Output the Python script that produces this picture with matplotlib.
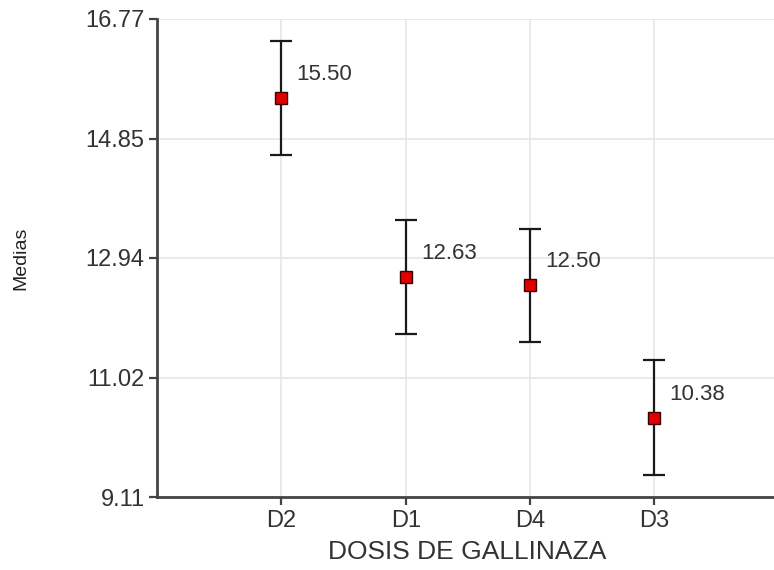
import matplotlib
matplotlib.use("Agg")
import matplotlib.pyplot as plt
import numpy as np

plt.rcParams['font.family'] = ['Liberation Sans', 'DejaVu Sans']

# Means per dose, sorted as in the chart
categories = ['D2', 'D1', 'D4', 'D3']
medias = [15.50, 12.63, 12.50, 10.38]
errores = [0.91, 0.91, 0.91, 0.92]
yticks = [9.11, 11.02, 12.94, 14.85, 16.77]
ytick_labels = ['9.11', '11.02', '12.94', '14.85', '16.77']

fig = plt.figure(figsize=(7.74, 5.70), dpi=100)
ax = fig.add_axes([0.203, 0.128, 0.80, 0.839])

x = np.arange(1, len(categories) + 1)
ax.errorbar(x, medias, yerr=errores, fmt='none', ecolor='#1a1a1a',
            elinewidth=1.6, capsize=8, capthick=1.6, zorder=3)
ax.plot(x, medias, 's', color='#e00000', markeredgecolor='#3a0000',
        markersize=9, markeredgewidth=1.0, zorder=4)

for xi, m in zip(x, medias):
    ax.annotate(f'{m:.2f}', (xi, m), xytext=(11, 17), textcoords='offset points',
                fontsize=16, color='#333333', va='center', ha='left')

ax.set_xlim(0, 4.98)
ax.set_ylim(9.11, 16.77)
ax.set_xticks(x)
ax.set_xticklabels(categories, fontsize=17, color='#333333')
ax.set_yticks(yticks)
ax.set_yticklabels(ytick_labels, fontsize=17, color='#333333')
ax.grid(True, color='#e6e6e6', linewidth=1.2)
ax.set_axisbelow(True)

for side in ['top', 'right']:
    ax.spines[side].set_visible(False)
for side in ['left', 'bottom']:
    ax.spines[side].set_color('#444444')
    ax.spines[side].set_linewidth(2)
ax.tick_params(axis='both', direction='out', length=6, width=1.6, color='#444444', pad=3)

ax.set_xlabel('DOSIS DE GALLINAZA', fontsize=19, color='#333333', labelpad=6)
ax.set_ylabel('Medias', fontsize=14, color='#222222', labelpad=40)

fig.savefig('out.png', dpi=100)
